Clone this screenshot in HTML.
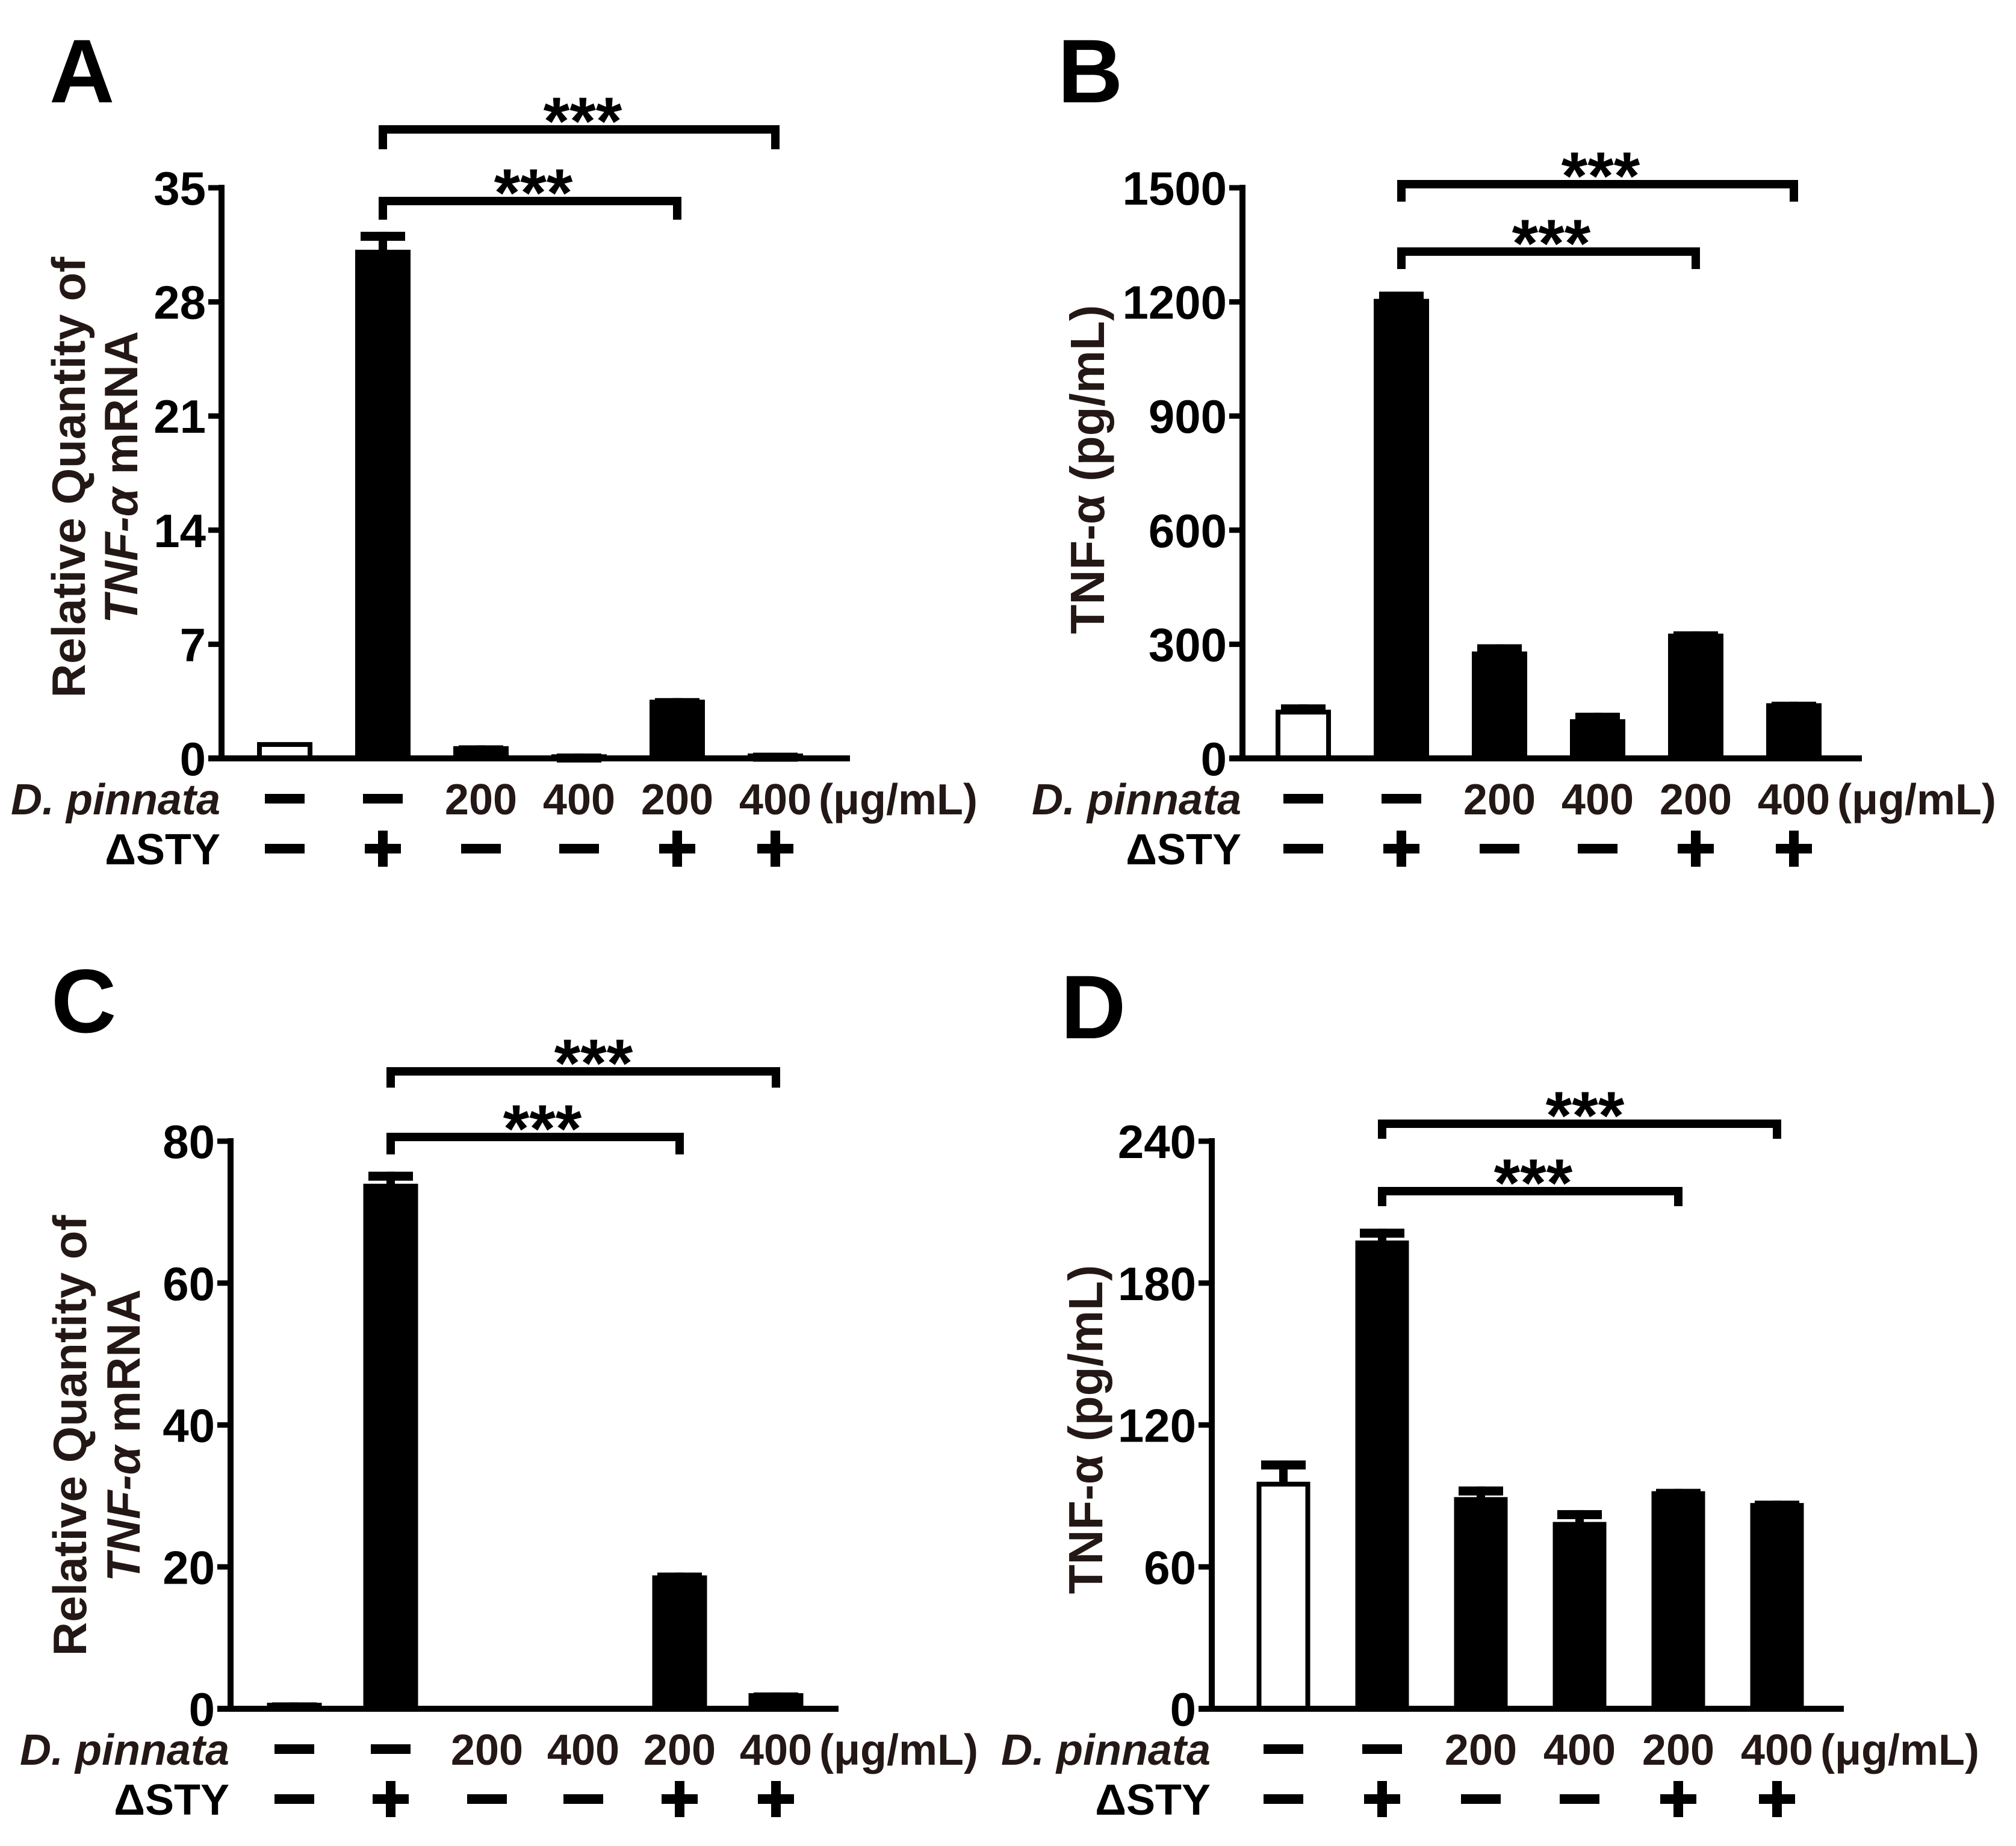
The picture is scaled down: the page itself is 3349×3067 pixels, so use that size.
<!DOCTYPE html>
<html><head><meta charset="utf-8"><style>
html,body{margin:0;padding:0;background:#fff}
svg{display:block}
text{font-family:"Liberation Sans",Arial,sans-serif;font-weight:bold}
</style></head><body>
<svg id="fig" width="3349" height="3067" viewBox="0 0 3349 3067" xmlns="http://www.w3.org/2000/svg"></svg>
<script>
// ---------- data ----------
const doseLabels = ['-', '-', '200', '400', '200', '400'];
const styLabels  = ['-', '+', '-', '-', '+', '+'];
const ticksA = [0, 7, 14, 21, 28, 35];
const valuesA = [1.0, 31.2, 0.75, 0.25, 3.6, 0.3];
const errA    = [1.0, 32.3, 0.8, 0.3, 3.7, 0.35];
const ticksB = [0, 300, 600, 900, 1200, 1500];
const valuesB = [128, 1208, 281, 103, 328, 145];
const errB    = [142, 1227, 300, 120, 334, 149];
const ticksC = [0, 20, 40, 60, 80];
const valuesC = [0.85, 74.0, 0.3, 0.15, 18.8, 2.2];
const errC    = [0.9, 75.7, 0.3, 0.15, 19.2, 2.3];
const ticksD = [0, 60, 120, 180, 240];
const valuesD = [96, 198, 89.5, 79, 92, 87];
const errD    = [105, 203, 94, 84, 93, 88];

const NS = 'http://www.w3.org/2000/svg';
const svg = document.getElementById('fig');
function mk(tag, attrs, parent) {
  const e = document.createElementNS(NS, tag);
  for (const k in attrs) e.setAttribute(k, attrs[k]);
  (parent || svg).appendChild(e);
  return e;
}

function panel(L, ticks, vals, errs) {
  const g = mk('g', {});
  
  
  const max = ticks[ticks.length - 1];
  const y = v => L.zero - v / max * (L.zero - L.top);
  const x = i => L.x0 + i * L.step;
  const lt = mk('text', {x: L.lx, y: L.ly, 'font-size': 150}, g);
  lt.textContent = L.id;
  
  
  vals.forEach((v, i) => {
    const bx = x(i) - L.bw / 2;
    const top = y(v);
    const e = errs[i];
    if (e > v + 0.0001) {
      const ey = y(e);
      const st = mk('rect', {x: x(i) - 7, y: ey, width: 14, height: top - ey + 2, fill: '#000'}, g);
      
      
      const cp = mk('rect', {x: x(i) - 37, y: ey, width: 74, height: 15, fill: '#000'}, g);
      
      
    }
    let r;
    if (i === 0) {
      r = mk('rect', {x: bx + 4, y: top + 4, width: L.bw - 8, height: Math.max(L.zero - top - 4, 0), fill: '#fff', stroke: '#000', 'stroke-width': 8}, g);
    } else {
      r = mk('rect', {x: bx, y: top, width: L.bw, height: L.zero - top, fill: '#000'}, g);
    }
    
    
  });
  const ya = mk('rect', {x: L.ax - 5, y: L.top - 5, width: 10, height: L.zero - L.top + 10, fill: '#000'}, g);
  
  
  const xa = mk('rect', {x: L.ax - 22, y: L.zero - 5, width: L.right - L.ax + 22, height: 10, fill: '#000'}, g);
  
  
  ticks.forEach(t => {
    const tk = mk('rect', {x: L.ax - 22, y: y(t) - 4.5, width: 22, height: 9, fill: '#000'}, g);
    
    
    const tl = mk('text', {x: L.ax - 26, y: y(t) + 28, 'font-size': 78, 'text-anchor': 'end'}, g);
    tl.textContent = String(t);
    
    
  });
  const tg = mk('g', {transform: 'rotate(-90)'}, g);
  if (L.mrna) {
    const t1 = mk('text', {x: -L.tcy, y: L.t1x + 28, 'font-size': 78, 'text-anchor': 'middle', fill: '#231815'}, tg);
    t1.textContent = 'Relative Quantity of';
    
    
    const t2 = mk('text', {x: -L.tcy, y: L.t2x + 28, 'font-size': 78, 'text-anchor': 'middle', fill: '#231815'}, tg);
    t2.innerHTML = '<tspan font-style="italic">TNF-α</tspan> mRNA';
    
    
  } else {
    const t1 = mk('text', {x: -L.tcy, y: L.t1x + 28, 'font-size': 80, 'text-anchor': 'middle', fill: '#231815'}, tg);
    t1.textContent = 'TNF-α (pg/mL)';
    
    
  }
  L.brackets.forEach(b => {
    const x1 = x(b.a), x2 = x(b.b);
    const bg = mk('g', {}, g);
    
    
    mk('rect', {x: x1 - 7, y: b.y, width: x2 - x1 + 14, height: 14, fill: '#000'}, bg);
    mk('rect', {x: x1 - 7, y: b.y, width: 14, height: b.leg, fill: '#000'}, bg);
    mk('rect', {x: x2 - 7, y: b.y, width: 14, height: b.leg, fill: '#000'}, bg);
    const st = mk('text', {x: b.sx, y: b.y + 32, 'font-size': 112, 'text-anchor': 'middle'}, bg);
    st.textContent = '***';
    
    
  });
  const r1 = L.zero + 67, r2 = L.zero + 150;
  const dl = mk('text', {x: L.ax - 2, y: r1 + 26, 'font-size': 72, 'text-anchor': 'end', 'font-style': 'italic', fill: '#231815'}, g);
  dl.textContent = 'D. pinnata';
  
  
  const sl = mk('text', {x: L.ax - 2, y: r2 + 26, 'font-size': 72, 'text-anchor': 'end'}, g);
  sl.textContent = 'ΔSTY';
  
  
  function sign(s, cx, cy) {
    if (s === '-') {
      const m = mk('rect', {x: cx - 33, y: cy - 8, width: 66, height: 16, fill: '#000'}, g);
      
      
    } else if (s === '+') {
      const p = mk('path', {d: `M${cx-30} ${cy-8}h22v-22h16v22h22v16h-22v22h-16v-22h-22z`, fill: '#000'}, g);
      
      
    } else {
      const t = mk('text', {x: cx, y: cy + 26, 'font-size': 72, 'text-anchor': 'middle', fill: '#231815'}, g);
      t.textContent = s;
      
      
    }
  }
  doseLabels.forEach((s, i) => sign(s, x(i), r1));
  styLabels.forEach((s, i) => sign(s, x(i), r2));
  const u = mk('text', {x: x(5) + 72, y: r1 + 26, 'font-size': 72, 'font-weight': 'normal', fill: '#231815'}, g);
  u.textContent = '(μg/mL)';
  
  
}

panel({id:'A', lx:82, ly:170, ax:368, top:312, zero:1260, right:1412, x0:473, step:163, bw:92,
  mrna:true, t1x:113, t2x:200, tcy:793,
  brackets:[{a:1,b:5,y:208,leg:40,sx:968},{a:1,b:4,y:327,leg:38,sx:886}]}, ticksA, valuesA, errA);
panel({id:'B', lx:1757, ly:170, ax:2064, top:312, zero:1260, right:3093, x0:2165, step:163, bw:92,
  mrna:false, t1x:1806, tcy:780,
  brackets:[{a:1,b:5,y:299,leg:36,sx:2659},{a:1,b:4,y:411,leg:36,sx:2577}]}, ticksB, valuesB, errB);
panel({id:'C', lx:85, ly:1715, ax:383, top:1896, zero:2839, right:1393, x0:489, step:160, bw:91,
  mrna:true, t1x:115, t2x:204, tcy:2385,
  brackets:[{a:1,b:5,y:1773,leg:34,sx:986},{a:1,b:4,y:1882,leg:36,sx:901}]}, ticksC, valuesC, errC);
panel({id:'D', lx:1762, ly:1725, ax:2013, top:1896, zero:2839, right:3063, x0:2132, step:164, bw:89,
  mrna:false, t1x:1803, tcy:2375,
  brackets:[{a:1,b:5,y:1860,leg:32,sx:2633},{a:1,b:4,y:1972,leg:32,sx:2547}]}, ticksD, valuesD, errD);
</script>
</body></html>
